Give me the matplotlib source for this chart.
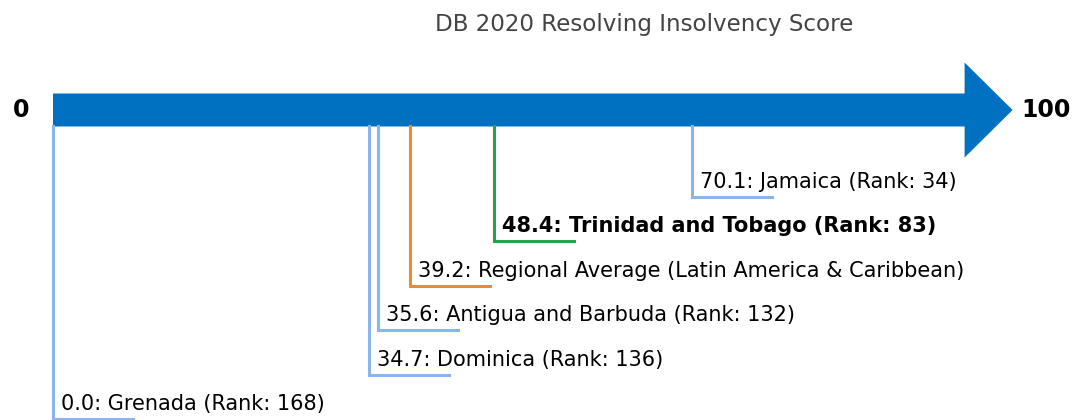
import matplotlib.pyplot as plt
from matplotlib.patches import FancyArrow

# score data
names = ["Jamaica", "Trinidad and Tobago", "Regional Average (Latin America & Caribbean)",
         "Antigua and Barbuda", "Dominica", "Grenada"]
scores = [70.1, 48.4, 39.2, 35.6, 34.7, 0.0]
ranks = [34, 83, None, 132, 136, 168]
colors = ["#8ab4ec", "#2ca048", "#f28a2a", "#8ab4ec", "#8ab4ec", "#8ab4ec"]
bold = [False, True, False, False, False, False]

W, H = 1072, 420
x0, scale = 53, 9.116  # pixel position of 0, pixels per point

fig = plt.figure(figsize=(W / 100, H / 100), dpi=100)
ax = fig.add_axes([0, 0, 1, 1])
ax.set_xlim(-x0 / scale, (W - x0) / scale)
ax.set_ylim(H, 0)
ax.axis("off")

# axis arrow
ax.add_patch(FancyArrow(0, 110, 100, 0, width=33, head_width=95, head_length=48 / scale,
                        length_includes_head=False, color="#0070c0", lw=0))
ax.text((21 - x0) / scale, 110, "0", ha="center", va="center", fontsize=17,
        fontweight="bold")
ax.text((1021 - x0) / scale, 110, "100", ha="left", va="center", fontsize=17,
        fontweight="bold")

ax.text((644 - x0) / scale, 25, "DB 2020 Resolving Insolvency Score",
        ha="center", va="center", fontsize=16.6, color="#444444")

seg = 80 / scale
for i, (n, s, r, c, b) in enumerate(zip(names, scores, ranks, colors, bold)):
    y = 197 + 44.4 * i
    ax.plot([s, s, s + seg], [126, y, y], color=c, lw=2.2, solid_joinstyle="miter",
            clip_on=False)
    label = f"{s:.1f}: {n}" + (f" (Rank: {r})" if r is not None else "")
    ax.text(s + 8 / scale, y - 5, label, ha="left", va="bottom", fontsize=15,
            fontweight="bold" if b else "normal", color="black")

fig.savefig("out.png", dpi=100)
